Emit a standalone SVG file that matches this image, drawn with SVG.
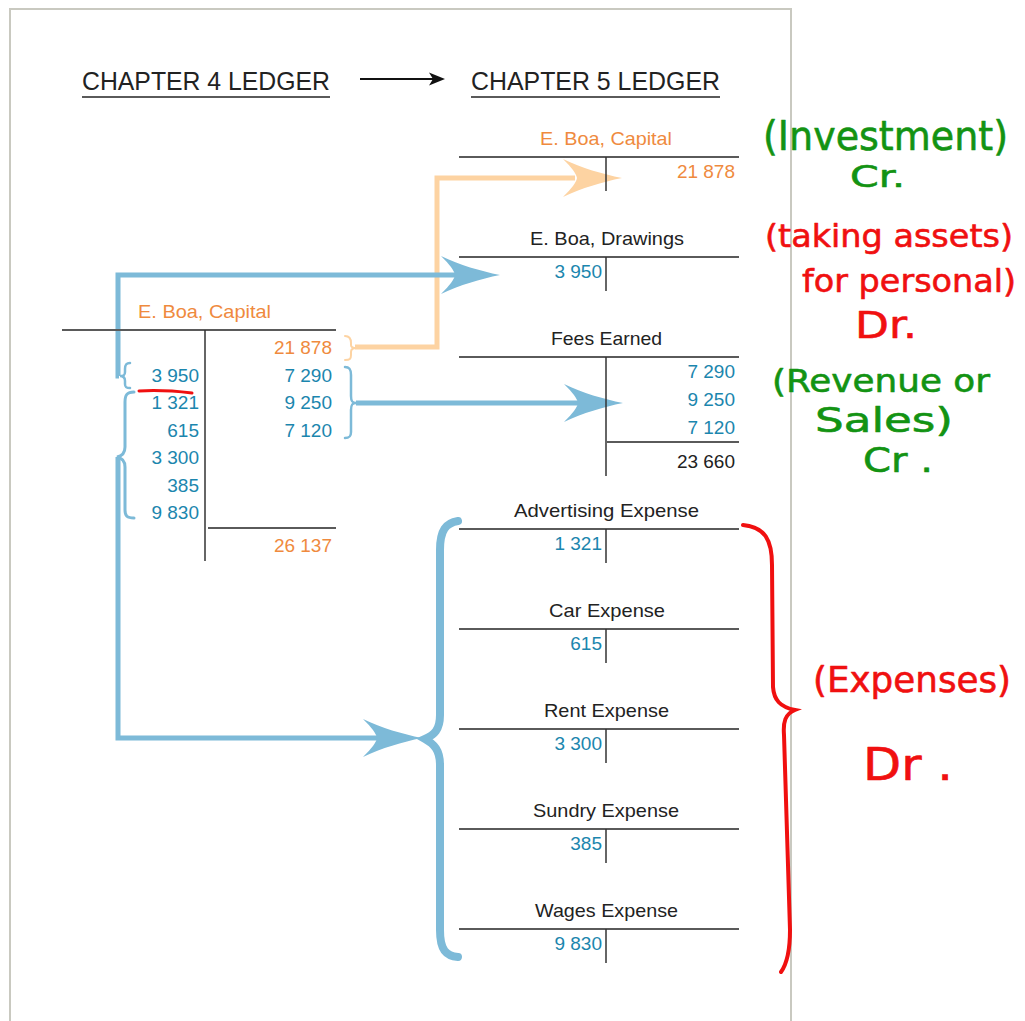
<svg xmlns="http://www.w3.org/2000/svg" xmlns:xlink="http://www.w3.org/1999/xlink" width="1025" height="1021" viewBox="0 0 1025 1021">
<style>
.lbl{font-family:"Liberation Sans",Arial,sans-serif;font-size:19px;fill:#222}
.org{fill:#ef8a3e}
.num{font-family:"Liberation Sans",Arial,sans-serif;font-size:19px;fill:#1b86ae;text-anchor:end}
.numo{fill:#ef8a3e}
.numk{fill:#222}
.title{font-family:"Liberation Sans",Arial,sans-serif;font-size:26px;fill:#222}
.hl{stroke:#5a5a5a;stroke-width:2;fill:none}
.vl{stroke:#333;stroke-width:1.5;fill:none}
.blue{stroke:#7dbad8;stroke-width:5;fill:none}
.orng{stroke:#fdd3a2;stroke-width:5;fill:none}
.bbr{stroke:#7dbad8;fill:none;stroke-linecap:round}
.obr{stroke:#fdd3a2;fill:none;stroke-width:2;stroke-linecap:round}
.hand{font-family:"DejaVu Sans",sans-serif;stroke-width:0.6;stroke-linejoin:round}
.hg{fill:#139313;stroke:#139313}
.hr{fill:#f01010;stroke:#f01010}
</style>
<defs>
<path id="ah" d="M0,0 C-20,-4 -40,-10 -59,-19 C-50,-10 -46,-5 -45,0 C-46,5 -50,10 -59,19 C-40,10 -20,4 0,0 Z"/>
</defs>
<rect x="0" y="0" width="1025" height="1021" fill="#ffffff"/>
<rect x="10" y="9" width="781" height="1030" fill="#ffffff" stroke="#c9c9c0" stroke-width="2"/>

<g id="titles">
<text class="title" x="82" y="90" textLength="248" lengthAdjust="spacingAndGlyphs">CHAPTER 4 LEDGER</text>
<line class="hl" x1="82" y1="97" x2="330" y2="97"/>
<text class="title" x="471" y="90" textLength="249" lengthAdjust="spacingAndGlyphs">CHAPTER 5 LEDGER</text>
<line class="hl" x1="471" y1="97" x2="720" y2="97"/>
<line x1="360" y1="79" x2="434" y2="79" stroke="#111" stroke-width="2"/>
<polygon points="445,79 429,72.5 433,79 429,85.5" fill="#111"/>
</g>

<g id="connectors">
<path class="orng" d="M355,347 H437 V178 H575"/>
<use xlink:href="#ah" transform="translate(622,178)" fill="#fdd3a2"/>
<path class="blue" d="M119,376 H118 V275 H455"/>
<use xlink:href="#ah" transform="translate(500,275)" fill="#7dbad8"/>
<path class="blue" d="M356,403 H578"/>
<use xlink:href="#ah" transform="translate(623,403)" fill="#7dbad8"/>
<path class="blue" d="M118,457 V738 H377"/>
<use xlink:href="#ah" transform="translate(422,738)" fill="#7dbad8"/>
<path class="obr" d="M345,336 C350,336 351,339 351,343 L351,345 C351,347 352,348 356,348 C352,348 351,350 351,352 L351,355 C351,359 350,360 345,360"/>
<path class="bbr" stroke-width="2.5" d="M345,367 C350,367 351,370 351,375 L351,396 C351,401 352,403 356,403 C352,403 351,405 351,410 L351,432 C351,436 350,438 345,438"/>
<path class="bbr" stroke-width="2.5" d="M130,363 C126,363 125,365 125,369 L125,372 C125,375 124,376 120,376 C124,376 125,378 125,381 L125,384 C125,387 126,388 130,388"/>
<path class="bbr" stroke-width="3" d="M134,392 C127,392 125,395 125,402 L125,447 C125,453 122,456 117,457 C122,458 125,461 125,467 L125,510 C125,516 127,518 134,518"/>
<path class="bbr" stroke-width="8" d="M458,521 C446,523 440,530 440,550 L440,715 C440,730 434,735 425,739 C434,744 440,750 440,765 L440,930 C440,950 446,956 458,957"/>
</g>

<g id="ch4-capital">
<text class="lbl org" x="138" y="318" textLength="133" lengthAdjust="spacingAndGlyphs">E. Boa, Capital</text>
<line class="hl" x1="62" y1="330" x2="336" y2="330"/>
<line class="vl" x1="205" y1="330" x2="205" y2="561"/>
<line class="hl" x1="208" y1="528" x2="336" y2="528"/>
<text class="num" x="199" y="382">3 950</text>
<text class="num" x="199" y="409">1 321</text>
<text class="num" x="199" y="437">615</text>
<text class="num" x="199" y="464">3 300</text>
<text class="num" x="199" y="492">385</text>
<text class="num" x="199" y="519">9 830</text>
<text class="num numo" x="332" y="354">21 878</text>
<text class="num" x="332" y="382">7 290</text>
<text class="num" x="332" y="409">9 250</text>
<text class="num" x="332" y="437">7 120</text>
<text class="num numo" x="332" y="552">26 137</text>
</g>

<g id="ch5-capital">
<text class="lbl org" x="540" y="145" textLength="132" lengthAdjust="spacingAndGlyphs">E. Boa, Capital</text>
<line class="hl" x1="459" y1="157" x2="739" y2="157"/>
<line class="vl" x1="606" y1="157" x2="606" y2="191"/>
<text class="num numo" x="735" y="178">21 878</text>
</g>

<g id="ch5-drawings">
<text class="lbl" x="530" y="245" textLength="154" lengthAdjust="spacingAndGlyphs">E. Boa, Drawings</text>
<line class="hl" x1="459" y1="257" x2="739" y2="257"/>
<line class="vl" x1="606" y1="257" x2="606" y2="291"/>
<text class="num" x="602" y="278">3 950</text>
</g>

<g id="ch5-fees">
<text class="lbl" x="551" y="345" textLength="111" lengthAdjust="spacingAndGlyphs">Fees Earned</text>
<line class="hl" x1="459" y1="357" x2="739" y2="357"/>
<line class="vl" x1="606" y1="357" x2="606" y2="476"/>
<line class="hl" x1="607" y1="442" x2="739" y2="442"/>
<text class="num" x="735" y="378">7 290</text>
<text class="num" x="735" y="406">9 250</text>
<text class="num" x="735" y="434">7 120</text>
<text class="num numk" x="735" y="468">23 660</text>
</g>

<g id="ch5-advertising">
<text class="lbl" x="514" y="517" textLength="185" lengthAdjust="spacingAndGlyphs">Advertising Expense</text>
<line class="hl" x1="459" y1="529" x2="739" y2="529"/>
<line class="vl" x1="606" y1="529" x2="606" y2="563"/>
<text class="num" x="602" y="550">1 321</text>
</g>

<g id="ch5-car">
<text class="lbl" x="549" y="617" textLength="116" lengthAdjust="spacingAndGlyphs">Car Expense</text>
<line class="hl" x1="459" y1="629" x2="739" y2="629"/>
<line class="vl" x1="606" y1="629" x2="606" y2="663"/>
<text class="num" x="602" y="650">615</text>
</g>

<g id="ch5-rent">
<text class="lbl" x="544" y="717" textLength="125" lengthAdjust="spacingAndGlyphs">Rent Expense</text>
<line class="hl" x1="459" y1="729" x2="739" y2="729"/>
<line class="vl" x1="606" y1="729" x2="606" y2="763"/>
<text class="num" x="602" y="750">3 300</text>
</g>

<g id="ch5-sundry">
<text class="lbl" x="533" y="817" textLength="146" lengthAdjust="spacingAndGlyphs">Sundry Expense</text>
<line class="hl" x1="459" y1="829" x2="739" y2="829"/>
<line class="vl" x1="606" y1="829" x2="606" y2="863"/>
<text class="num" x="602" y="850">385</text>
</g>

<g id="ch5-wages">
<text class="lbl" x="535" y="917" textLength="143" lengthAdjust="spacingAndGlyphs">Wages Expense</text>
<line class="hl" x1="459" y1="929" x2="739" y2="929"/>
<line class="vl" x1="606" y1="929" x2="606" y2="963"/>
<text class="num" x="602" y="950">9 830</text>
</g>

<g id="annotations">
<path d="M139,391 C155,390 175,391 192,393" stroke="#f01010" stroke-width="3" fill="none" stroke-linecap="round"/>
<path d="M743,525 C765,527 772,540 772,565 L773,687 C774,700 780,707 795,710 C785,714 783,722 784,735 L790,930 C790,955 786,965 781,972" stroke="#f01010" stroke-width="4" fill="none" stroke-linecap="round"/>
<text class="hand hg" x="763" y="150" font-size="40" textLength="245" lengthAdjust="spacingAndGlyphs">(Investment)</text>
<text class="hand hg" x="850" y="187" font-size="30" textLength="55" lengthAdjust="spacingAndGlyphs">Cr.</text>
<text class="hand hr" x="765" y="247" font-size="32" textLength="248" lengthAdjust="spacingAndGlyphs">(taking assets)</text>
<text class="hand hr" x="802" y="292" font-size="32" textLength="214" lengthAdjust="spacingAndGlyphs">for personal)</text>
<text class="hand hr" x="855" y="338" font-size="38" textLength="62" lengthAdjust="spacingAndGlyphs">Dr.</text>
<text class="hand hg" x="772" y="392" font-size="32" textLength="218" lengthAdjust="spacingAndGlyphs">(Revenue or</text>
<text class="hand hg" x="815" y="432" font-size="34" textLength="138" lengthAdjust="spacingAndGlyphs">Sales)</text>
<text class="hand hg" x="863" y="472" font-size="34" textLength="70" lengthAdjust="spacingAndGlyphs">Cr .</text>
<text class="hand hr" x="813" y="692" font-size="35" textLength="198" lengthAdjust="spacingAndGlyphs">(Expenses)</text>
<text class="hand hr" x="863" y="780" font-size="44" textLength="90" lengthAdjust="spacingAndGlyphs">Dr .</text>
</g>
</svg>
